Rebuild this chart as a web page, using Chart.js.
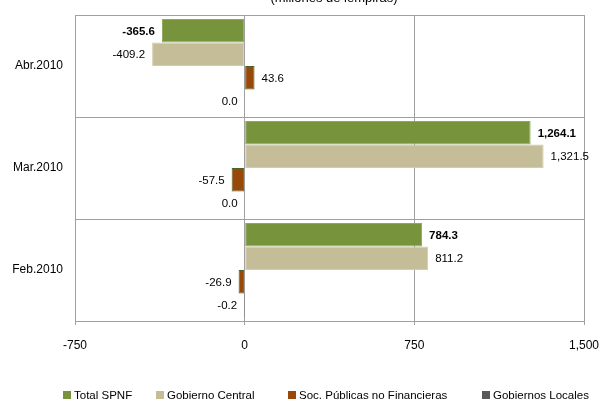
<!DOCTYPE html>
<html>
<head>
<meta charset="utf-8">
<script src="https://cdn.jsdelivr.net/npm/chart.js@4"></script>
<style>
html,body{margin:0;padding:0;background:#fff;}
#wrap{position:relative;width:600px;height:401px;}
</style>
</head>
<body>
<div id="wrap"><canvas id="c" width="600" height="401"></canvas></div>
<script>
const categories = ['Abr.2010', 'Mar.2010', 'Feb.2010'];
const seriesNames = ['Total SPNF', 'Gobierno Central', 'Soc. Públicas no Financieras', 'Gobiernos Locales'];
const totalSPNF = [-365.6, 1264.1, 784.3];
const gobiernoCentral = [-409.2, 1321.5, 811.2];
const socPublicas = [43.6, -57.5, -26.9];
const gobiernosLocales = [0.0, 0.0, -0.2];
const xTicks = [-750, 0, 750, 1500];
const subtitle = '(millones de lempiras)';

const fills = ['#77933C', '#C4BD97', '#984807', '#595959'];
const borders = ['#8FA95A', '#D3CDAE', '#4F6228', '#595959'];
const FONT = "'Liberation Sans', Arial, sans-serif";

const fmt = v => v.toLocaleString('en-US', {minimumFractionDigits: 1, maximumFractionDigits: 1});

const dataLabels = {
  id: 'dataLabels',
  afterDatasetsDraw(chart) {
    const ctx = chart.ctx;
    ctx.save();
    chart.data.datasets.forEach((ds, di) => {
      const meta = chart.getDatasetMeta(di);
      meta.data.forEach((bar, i) => {
        const v = ds.data[i];
        ctx.font = (di === 0 ? 'bold ' : '') + '11.5px ' + FONT;
        ctx.fillStyle = '#000';
        ctx.textBaseline = 'middle';
        if (v > 0) {
          ctx.textAlign = 'left';
          ctx.fillText(fmt(v), Math.max(bar.x, bar.base) + 7, bar.y + 1);
        } else {
          ctx.textAlign = 'right';
          ctx.fillText(fmt(v), Math.min(bar.x, bar.base) - 7, bar.y + 1);
        }
      });
    });
    ctx.restore();
  }
};

const extras = {
  id: 'extras',
  afterDraw(chart) {
    const ctx = chart.ctx;
    ctx.save();
    ctx.font = '13px ' + FONT;
    ctx.fillStyle = '#000';
    ctx.textAlign = 'center';
    ctx.textBaseline = 'alphabetic';
    ctx.fillText(subtitle, 334, 2);
    const starts = [63, 156, 288, 482];
    ctx.font = '11.5px ' + FONT;
    ctx.textAlign = 'left';
    ctx.textBaseline = 'middle';
    chart.data.datasets.forEach((ds, i) => {
      const x = starts[i];
      ctx.fillStyle = fills[i];
      ctx.fillRect(x, 391, 8, 8);
      ctx.fillStyle = '#000';
      ctx.fillText(ds.label, x + 11, 395.5);
    });
    ctx.restore();
  }
};

const seriesData = [totalSPNF, gobiernoCentral, socPublicas, gobiernosLocales];

new Chart(document.getElementById('c'), {
  type: 'bar',
  data: {
    labels: categories,
    datasets: seriesNames.map((name, i) => ({
      label: name,
      data: seriesData[i],
      backgroundColor: fills[i],
      borderColor: borders[i],
      borderWidth: 1,
      borderSkipped: false,
      barPercentage: 1,
      categoryPercentage: 0.92
    }))
  },
  options: {
    indexAxis: 'y',
    responsive: false,
    animation: false,
    devicePixelRatio: 1,
    layout: {padding: {top: 15, right: 16, bottom: 40, left: 0}},
    plugins: {legend: {display: false}, tooltip: {enabled: false}, title: {display: false}},
    scales: {
      x: {
        min: -750, max: 1500,
        afterBuildTicks(scale) { scale.ticks = xTicks.map(v => ({value: v})); },
        afterFit(scale) { scale.height = 40; scale.paddingLeft = 0; scale.paddingRight = 0; },
        grid: {color: '#A0A0A0', lineWidth: 1, drawTicks: true, tickLength: 4, tickColor: '#A0A0A0'},
        border: {display: true, color: '#A0A0A0'},
        ticks: {
          color: '#000', padding: 13, maxRotation: 0,
          font: {family: FONT, size: 12},
          callback: v => v.toLocaleString('en-US')
        }
      },
      y: {
        afterFit(scale) { scale.width = 75; scale.paddingTop = 0; scale.paddingBottom = 0; },
        grid: {color: '#A0A0A0', lineWidth: 1, drawTicks: false, offset: true},
        border: {display: true, color: '#A0A0A0'},
        ticks: {color: '#000', padding: 12, font: {family: FONT, size: 12}}
      }
    }
  },
  plugins: [dataLabels, extras]
});
</script>
</body>
</html>
